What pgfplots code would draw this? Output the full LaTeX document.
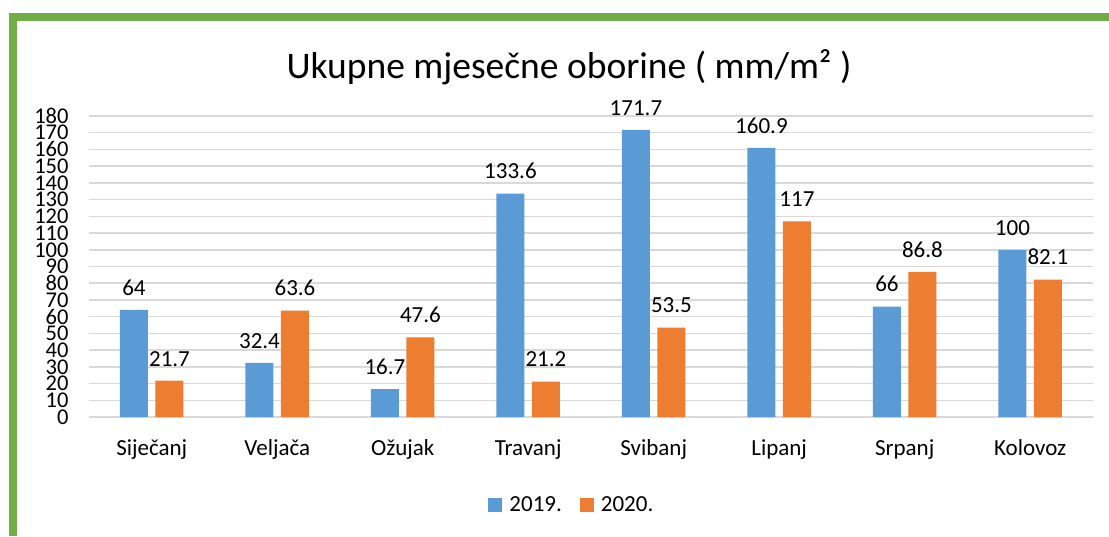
\documentclass[border=0pt]{standalone}
\usepackage{fontspec}
\setmainfont{Carlito}
\usepackage{pgfplots}
\pgfplotsset{compat=1.18}
\definecolor{cblue}{HTML}{5B9BD5}
\definecolor{corange}{HTML}{ED7D31}
\definecolor{cgreen}{HTML}{70AD47}
\definecolor{cgrid}{HTML}{D9D9D9}
\begin{document}
\begin{tikzpicture}
\useasboundingbox (0pt,0pt) rectangle (1109pt,536pt);
\fill[cgreen] (9pt,523pt) rectangle (1109pt,515pt);
\fill[cgreen] (9pt,523pt) rectangle (17pt,0pt);
\node[font=\fontsize{37.5}{42}\selectfont] at (569pt,469pt) {Ukupne mjesečne oborine ( mm/m² )};
\begin{axis}[
  at={(89pt,119pt)}, anchor=south west,
  scale only axis, width=1004pt, height=301pt,
  xmin=-0.5, xmax=7.5, ymin=0, ymax=180,
  ytick={0,10,...,180},
  xtick={0,...,7},
  xticklabels={Siječanj,Veljača,Ožujak,Travanj,Svibanj,Lipanj,Srpanj,Kolovoz},
  axis line style={draw=none},
  major tick length=0pt,
  ymajorgrids, grid style={cgrid, line width=1.5pt},
  /pgf/number format/assume math mode=true,
  yticklabel style={font=\fontsize{22.5}{22.5}\selectfont, anchor=east, xshift=-17pt, inner ysep=0pt},
  xticklabel style={font=\fontsize{23}{23}\selectfont, yshift=-19pt},
  ybar, bar width=28pt,
  enlarge x limits=false,
  nodes near coords,
  every node near coord/.append style={font=\fontsize{23}{23}\selectfont, anchor=south, yshift=11pt, color=black},
  legend style={at={(axis description cs:0.481,-0.292)}, anchor=center, draw=none, legend columns=2,
    font=\fontsize{23}{23}\selectfont,
    /tikz/every odd column/.append style={column sep=5pt},
    /tikz/every even column/.append style={column sep=16pt}},
  legend image code/.code={\fill[#1] (0pt,-7pt) rectangle (14pt,7pt);},
]
\addplot[fill=cblue, draw=none, bar shift=-17.75pt] coordinates {(0,64) (1,32.4) (2,16.7) (3,133.6) (4,171.7) (5,160.9) (6,66) (7,100)};
\addplot[fill=corange, draw=none, bar shift=17.75pt] coordinates {(0,21.7) (1,63.6) (2,47.6) (3,21.2) (4,53.5) (5,117) (6,86.8) (7,82.1)};
\legend{2019.,2020.}
\end{axis}
\end{tikzpicture}
\end{document}
